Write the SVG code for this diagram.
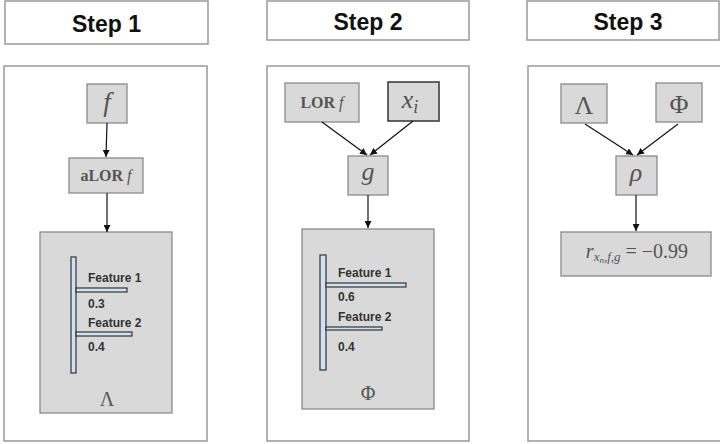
<svg xmlns="http://www.w3.org/2000/svg" width="720" height="444" viewBox="0 0 720 444">
<defs>
<style>
.hdr{fill:#fff;stroke:#999;stroke-width:1.5}
.hdrt{font-family:"Liberation Sans",Arial,sans-serif;font-weight:bold;font-size:23px;fill:#111;text-anchor:middle}
.panel{fill:#fff;stroke:#999;stroke-width:1.5}
.box{fill:#d9d9d9;stroke:#8a8a8a;stroke-width:1.3}
.boxd{fill:#d9d9d9;stroke:#333;stroke-width:1.5}
.math{font-family:"Liberation Serif","Times New Roman",serif;fill:#555;text-anchor:middle}
.it{font-style:italic}
.bold{font-weight:bold}
.bar{fill:#cfe2f3;stroke:#333;stroke-width:1.2}
.feat{font-family:"Liberation Sans",Arial,sans-serif;font-weight:bold;font-size:12px;fill:#333}
.conn{stroke:#111;stroke-width:1.2;fill:none;marker-end:url(#ah)}
</style>
<marker id="ah" viewBox="0 0 10 10" refX="10" refY="5" markerWidth="7" markerHeight="7" markerUnits="userSpaceOnUse" orient="auto">
<path d="M0,0 L10,5 L0,10 z" fill="#111"/>
</marker>
</defs>

<!-- headers -->
<g id="header1"><rect class="hdr" x="5" y="1" width="203" height="43"/><text class="hdrt" x="106.5" y="32">Step 1</text></g>
<g id="header2"><rect class="hdr" x="267" y="1" width="202" height="39"/><text class="hdrt" x="368" y="30">Step 2</text></g>
<g id="header3"><rect class="hdr" x="527" y="1" width="192" height="39"/><text class="hdrt" x="628" y="30">Step 3</text></g>

<!-- panels -->
<g id="panel1"><rect class="panel" x="4" y="66" width="203" height="375"/></g>
<g id="panel2"><rect class="panel" x="267" y="66" width="202" height="375"/></g>
<g id="panel3"><rect class="panel" x="528" y="66" width="202" height="375"/></g>

<!-- Step 1 nodes -->
<g id="s1_f"><rect class="box" x="87" y="84" width="40" height="39"/><text class="math it" x="107" y="111" font-size="27">f</text></g>
<g id="s1_alor"><rect class="box" x="69" y="158" width="74" height="35"/><text class="math bold" x="106" y="181" font-size="16">aLOR <tspan class="it" font-weight="normal">f</tspan></text></g>
<g id="s1_lambda">
<rect class="box" x="40" y="232" width="132" height="181"/>
<rect class="bar" x="71" y="257" width="5" height="116"/>
<rect class="bar" x="76" y="288" width="51" height="4"/>
<rect class="bar" x="76" y="332" width="56" height="4"/>
<text class="feat" x="88" y="282">Feature 1</text>
<text class="feat" x="88" y="308">0.3</text>
<text class="feat" x="88" y="327">Feature 2</text>
<text class="feat" x="88" y="351">0.4</text>
<text class="math" x="107" y="406" font-size="20" fill="#666">Λ</text>
</g>

<!-- Step 2 nodes -->
<g id="s2_lor"><rect class="box" x="285" y="83" width="74" height="39"/><text class="math bold" x="322" y="108" font-size="16">LOR <tspan class="it" font-weight="normal">f</tspan></text></g>
<g id="s2_xi"><rect class="boxd" x="388" y="82" width="51" height="39"/><text class="math it" x="410" y="108" font-size="26">x<tspan font-size="18" dy="5">i</tspan></text></g>
<g id="s2_g"><rect class="box" x="348" y="156" width="40" height="39"/><text class="math it" x="368" y="180" font-size="26">g</text></g>
<g id="s2_phi">
<rect class="box" x="302" y="229" width="132" height="180"/>
<rect class="bar" x="320" y="255" width="6" height="115"/>
<rect class="bar" x="326" y="283" width="80" height="4"/>
<rect class="bar" x="326" y="327" width="56" height="3"/>
<text class="feat" x="338" y="277">Feature 1</text>
<text class="feat" x="338" y="301">0.6</text>
<text class="feat" x="338" y="321">Feature 2</text>
<text class="feat" x="338" y="351">0.4</text>
<text class="math" x="368" y="400" font-size="20" fill="#666">Φ</text>
</g>

<!-- Step 3 nodes -->
<g id="s3_lambda"><rect class="box" x="561" y="84" width="46" height="39"/><text class="math" x="584" y="114" font-size="26">Λ</text></g>
<g id="s3_phi"><rect class="box" x="656" y="83" width="46" height="39"/><text class="math" x="679" y="113" font-size="26">Φ</text></g>
<g id="s3_rho"><rect class="box" x="616" y="156" width="41" height="39"/><text class="math it" x="636" y="181" font-size="26">ρ</text></g>
<g id="s3_r"><rect class="box" x="561" y="232" width="150" height="44"/><text class="math" x="637" y="258" font-size="20" fill="#777"><tspan class="it">r</tspan><tspan class="it" font-size="13" dy="3">x<tspan font-size="9" dy="2">n</tspan><tspan dy="-2">,f,g</tspan></tspan><tspan dy="-3"> = −0.99</tspan></text></g>

<!-- connectors -->
<g id="connectors">
<line class="conn" x1="107" y1="123" x2="106" y2="157"/>
<line class="conn" x1="107" y1="193" x2="107" y2="232"/>
<line class="conn" x1="322" y1="122" x2="367" y2="155"/>
<line class="conn" x1="413" y1="121" x2="370" y2="155"/>
<line class="conn" x1="368" y1="195" x2="368" y2="228"/>
<line class="conn" x1="585" y1="124" x2="633" y2="155"/>
<line class="conn" x1="678" y1="124" x2="637" y2="155"/>
<line class="conn" x1="636" y1="195" x2="636" y2="231"/>
</g>
</svg>
